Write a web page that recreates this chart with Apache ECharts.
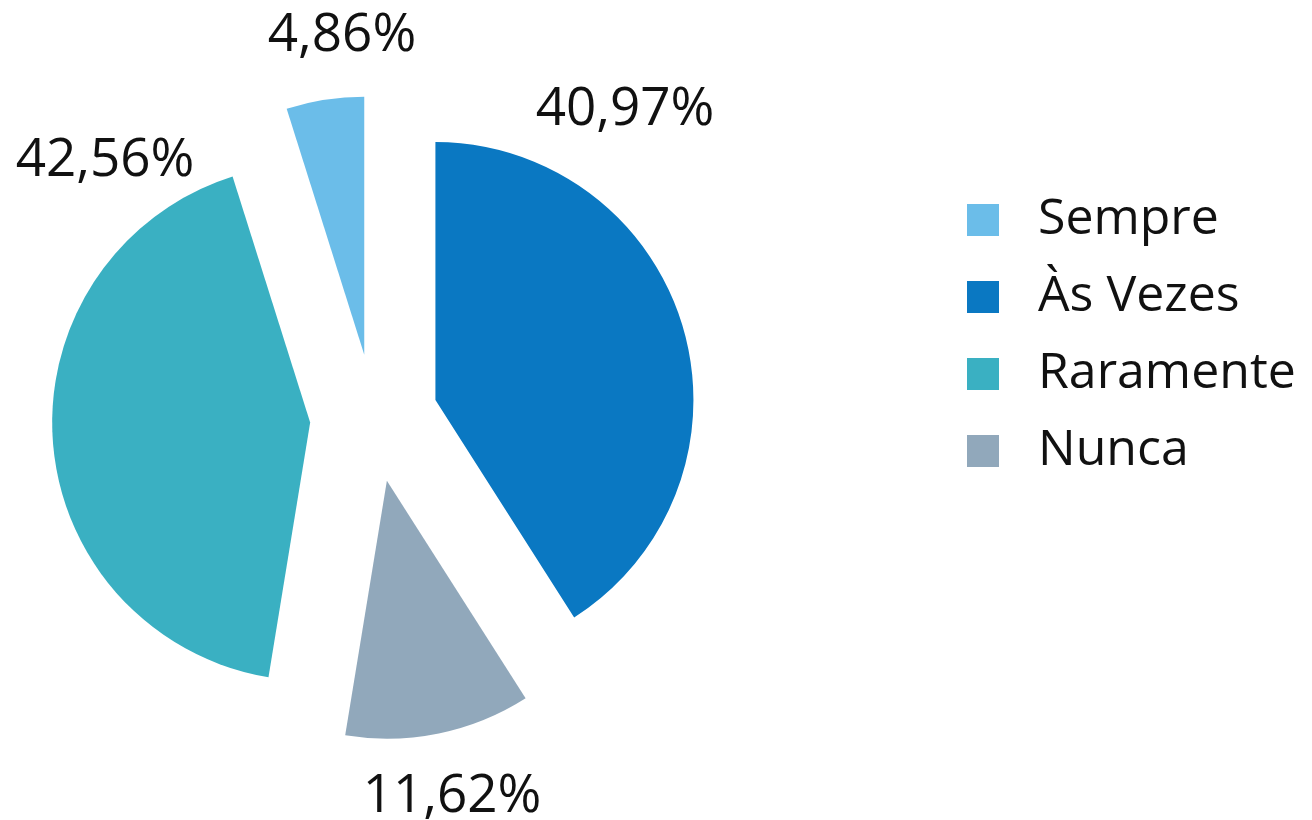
<!DOCTYPE html>
<html>
<head>
<meta charset="utf-8">
<style>
  html, body { margin: 0; padding: 0; background: #fff; }
  #chart { width: 1312px; height: 820px; }
</style>
</head>
<body>
<div id="chart"></div>
<script src="https://cdn.jsdelivr.net/npm/echarts@6/dist/echarts.min.js"></script>
<script>
  // pie order as drawn (clockwise), legend order as in the key
  const categories = ['Sempre', 'Às Vezes', 'Nunca', 'Raramente'];
  const values = [4.86, 40.97, 11.62, 42.56];
  const legendOrder = ['Sempre', 'Às Vezes', 'Raramente', 'Nunca'];
  const colors = ['#6bbde9', '#0a78c2', '#91a8bb', '#3ab0c2'];

  // label centres (hand placed in the original chart)
  const labelPos = [[342, 36], [625, 110], [452, 797], [105, 161]];

  function fmt(v) {
    return v.toFixed(2).replace('.', ',') + '%';
  }

  const myChart = echarts.init(document.getElementById('chart'));

  const option = {
    animation: false,
    textStyle: { fontFamily: 'Open Sans' },
    legend: {
      orient: 'vertical',
      left: 962,
      top: 190,
      data: legendOrder,
      icon: 'rect',
      itemWidth: 32,
      itemHeight: 32,
      itemGap: 27,
      selectedMode: false,
      textStyle: {
        fontFamily: 'Open Sans',
        fontSize: 50,
        lineHeight: 50,
        color: '#111',
        padding: [0, 0, 0, 34]
      }
    },
    // percentage labels, text taken from the values
    graphic: values.map(function (v, i) {
      return {
        type: 'text',
        x: labelPos[i][0],
        y: labelPos[i][1],
        silent: true,
        style: {
          text: fmt(v),
          fontFamily: 'Open Sans',
          fontSize: 53,
          fill: '#111',
          align: 'center',
          verticalAlign: 'middle'
        }
      };
    }),
    series: [
      {
        type: 'pie',
        center: [374, 418],
        radius: 258,
        startAngle: 107.5,
        clockwise: true,
        selectedMode: 'multiple',
        selectedOffset: 64,
        emphasis: { disabled: true },
        label: { show: false },
        labelLine: { show: false },
        data: categories.map(function (name, i) {
          return {
            name: name,
            value: values[i],
            selected: true,
            itemStyle: { color: colors[i] }
          };
        })
      }
    ]
  };

  myChart.setOption(option);
</script>
</body>
</html>
